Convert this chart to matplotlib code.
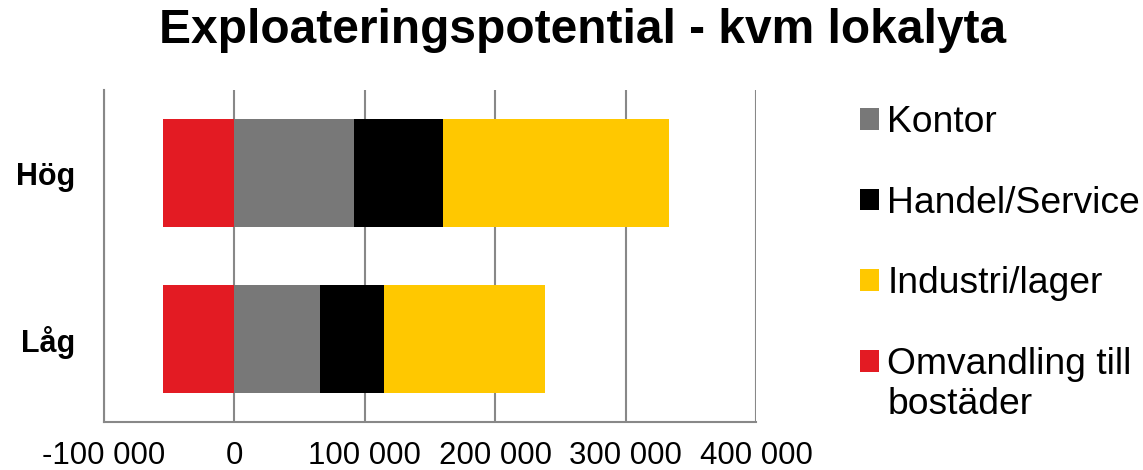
import numpy as np
import matplotlib.pyplot as plt
from matplotlib.patches import Patch
from matplotlib.ticker import FuncFormatter

plt.rcParams['font.family'] = ['Liberation Sans', 'DejaVu Sans']

categories = ['Låg', 'Hög']
series = ['Kontor', 'Handel/Service', 'Industri/lager', 'Omvandling till']
kontor = [66000, 92000]
handel = [49000, 68000]
industri = [123000, 173000]
omvandling = [-55000, -55000]
colors = ['#787878', '#000000', '#ffc800', '#e31b23']

fig = plt.figure(figsize=(11.43, 4.70), dpi=100)
ax = fig.add_axes([104 / 1143, 1 - 422 / 470, (756 - 104) / 1143, (422 - 90) / 470])

y = np.arange(len(categories))
h = 0.645
left = np.zeros(len(categories))
for vals, c in zip([kontor, handel, industri], colors[:3]):
    ax.barh(y, vals, height=h, left=left, color=c, zorder=2)
    left += np.array(vals)
ax.barh(y, omvandling, height=h, color=colors[3], zorder=2)

ax.set_xlim(-100000, 400000)
ax.set_ylim(-0.5, 1.5)
ax.set_xticks(np.arange(-100000, 400001, 100000))
ax.xaxis.set_major_formatter(FuncFormatter(lambda v, p: f'{int(v):,}'.replace(',', ' ')))
ax.set_yticks(y)
ax.set_yticklabels(categories, fontweight='bold', fontsize=22)
ax.tick_params(axis='x', labelsize=22.5, length=0, pad=14)
ax.tick_params(axis='y', length=0, pad=21)
ax.grid(axis='x', color='#888888', linewidth=1.5, zorder=0)
for s in ['top', 'right']:
    ax.spines[s].set_visible(False)
for s in ['left', 'bottom']:
    ax.spines[s].set_color('#888888')
    ax.spines[s].set_linewidth(1.5)

fig.text(582.5 / 1143, 1 - 43 / 470, 'Exploateringspotential - kvm lokalyta', ha='center',
         va='baseline', fontsize=34.5, fontweight='bold')

handles = [Patch(facecolor=c, edgecolor='none') for c in colors]
fig.legend(handles, series, loc='upper left', bbox_to_anchor=(845 / 1143, 1 - 90 / 470),
           frameon=False, fontsize=26.8, handlelength=0.52, handleheight=0.52,
           handletextpad=0.22, labelspacing=1.23, borderaxespad=0)
# second line of the last legend label, kept next to the text like the original
fig.text(888 / 1143, 1 - 405 / 470, 'bostäder', ha='left', va='center', fontsize=26.8)

fig.savefig('out.png', dpi=100)
